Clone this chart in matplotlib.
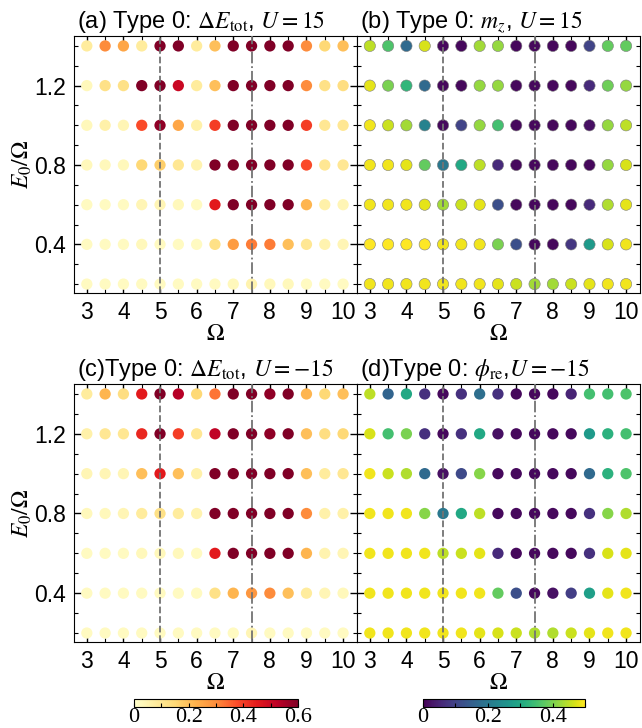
import numpy as np
import matplotlib
matplotlib.use('Agg')
import matplotlib.pyplot as plt
from matplotlib.ticker import MultipleLocator

plt.rcParams['font.family'] = ['Liberation Sans', 'DejaVu Sans']
plt.rcParams['mathtext.fontset'] = 'stix'

omega = [3.0, 3.5, 4.0, 4.5, 5.0, 5.5, 6.0, 6.5, 7.0, 7.5, 8.0, 8.5, 9.0, 9.5, 10.0]
e0_ratio = [1.4, 1.2, 1.0, 0.8, 0.6, 0.4, 0.2]

# (a) Delta E_tot, U = 15   (rows: E0/Omega = 1.4 ... 0.2)
dE_Upos = [
    [0.08, 0.30, 0.25, 0.08, 0.60, 0.60, 0.08, 0.20, 0.60, 0.60, 0.60, 0.60, 0.30, 0.15, 0.20],
    [0.03, 0.12, 0.12, 0.60, 0.60, 0.50, 0.08, 0.20, 0.60, 0.60, 0.60, 0.60, 0.30, 0.12, 0.13],
    [0.03, 0.06, 0.04, 0.38, 0.58, 0.25, 0.06, 0.40, 0.60, 0.60, 0.60, 0.60, 0.40, 0.10, 0.10],
    [0.03, 0.03, 0.03, 0.15, 0.17, 0.10, 0.05, 0.60, 0.60, 0.60, 0.60, 0.60, 0.38, 0.10, 0.10],
    [0.02, 0.02, 0.02, 0.04, 0.04, 0.03, 0.02, 0.45, 0.60, 0.60, 0.60, 0.60, 0.22, 0.06, 0.04],
    [0.02, 0.02, 0.02, 0.03, 0.02, 0.02, 0.02, 0.12, 0.27, 0.32, 0.32, 0.20, 0.10, 0.05, 0.04],
    [0.02, 0.02, 0.02, 0.02, 0.02, 0.02, 0.02, 0.02, 0.03, 0.05, 0.03, 0.03, 0.02, 0.02, 0.02],
]

# (b) m_z, U = 15
mz_Upos = [
    [0.45, 0.36, 0.17, 0.47, 0.01, 0.01, 0.43, 0.42, 0.01, 0.01, 0.01, 0.01, 0.10, 0.38, 0.38],
    [0.48, 0.40, 0.33, 0.17, 0.01, 0.01, 0.42, 0.42, 0.01, 0.01, 0.01, 0.01, 0.06, 0.39, 0.42],
    [0.49, 0.46, 0.43, 0.22, 0.01, 0.10, 0.42, 0.35, 0.01, 0.01, 0.01, 0.01, 0.02, 0.42, 0.45],
    [0.49, 0.49, 0.48, 0.38, 0.20, 0.30, 0.45, 0.06, 0.01, 0.01, 0.01, 0.01, 0.01, 0.42, 0.47],
    [0.49, 0.49, 0.49, 0.48, 0.43, 0.46, 0.48, 0.12, 0.01, 0.01, 0.01, 0.01, 0.06, 0.44, 0.48],
    [0.50, 0.50, 0.50, 0.50, 0.49, 0.49, 0.49, 0.40, 0.12, 0.01, 0.01, 0.08, 0.27, 0.47, 0.49],
    [0.49, 0.49, 0.49, 0.49, 0.49, 0.49, 0.49, 0.48, 0.46, 0.43, 0.43, 0.46, 0.48, 0.49, 0.49],
]

# (c) Delta E_tot, U = -15
dE_Uneg = [
    [0.08, 0.22, 0.13, 0.45, 0.60, 0.53, 0.15, 0.33, 0.60, 0.60, 0.58, 0.60, 0.22, 0.15, 0.20],
    [0.06, 0.10, 0.10, 0.43, 0.60, 0.40, 0.10, 0.52, 0.60, 0.60, 0.58, 0.60, 0.20, 0.13, 0.15],
    [0.04, 0.04, 0.04, 0.20, 0.45, 0.20, 0.06, 0.60, 0.60, 0.60, 0.60, 0.60, 0.20, 0.08, 0.10],
    [0.03, 0.03, 0.04, 0.08, 0.12, 0.08, 0.05, 0.60, 0.60, 0.60, 0.60, 0.60, 0.30, 0.06, 0.06],
    [0.02, 0.02, 0.02, 0.03, 0.03, 0.03, 0.02, 0.45, 0.60, 0.60, 0.60, 0.60, 0.22, 0.05, 0.04],
    [0.02, 0.02, 0.02, 0.02, 0.02, 0.02, 0.02, 0.12, 0.22, 0.28, 0.30, 0.20, 0.08, 0.04, 0.03],
    [0.02, 0.02, 0.02, 0.02, 0.02, 0.02, 0.02, 0.02, 0.02, 0.04, 0.02, 0.02, 0.02, 0.02, 0.02],
]

# (d) phi_re, U = -15
phi_Uneg = [
    [0.45, 0.16, 0.30, 0.07, 0.01, 0.07, 0.18, 0.07, 0.01, 0.01, 0.01, 0.05, 0.35, 0.35, 0.36],
    [0.47, 0.35, 0.40, 0.07, 0.01, 0.07, 0.30, 0.02, 0.01, 0.01, 0.01, 0.01, 0.27, 0.32, 0.35],
    [0.49, 0.46, 0.44, 0.17, 0.02, 0.11, 0.41, 0.01, 0.01, 0.01, 0.01, 0.01, 0.17, 0.32, 0.36],
    [0.49, 0.49, 0.49, 0.41, 0.20, 0.30, 0.45, 0.01, 0.01, 0.01, 0.01, 0.01, 0.07, 0.41, 0.44],
    [0.49, 0.49, 0.49, 0.49, 0.45, 0.46, 0.48, 0.06, 0.01, 0.01, 0.01, 0.01, 0.07, 0.47, 0.48],
    [0.49, 0.49, 0.49, 0.49, 0.49, 0.49, 0.49, 0.38, 0.12, 0.01, 0.02, 0.09, 0.28, 0.48, 0.49],
    [0.49, 0.49, 0.49, 0.49, 0.49, 0.49, 0.48, 0.47, 0.46, 0.44, 0.44, 0.46, 0.48, 0.49, 0.49],
]

titles = [r"(a) Type 0: $\Delta E_{\rm tot}$, $U = 15$",
          r"(b) Type 0: $m_z$, $U = 15$",
          r"(c)Type 0: $\Delta E_{\rm tot}$, $U = -15$",
          r"(d)Type 0: $\phi_{\rm re}$,$U = -15$"]
guide_lines = [5.0, 7.5]

W, H = 642, 728
fig = plt.figure(figsize=(W / 100, H / 100), dpi=100)

def frac(l, t, r, b):
    return [l / W, 1 - b / H, (r - l) / W, (b - t) / H]

boxes = [frac(74, 36, 357, 293), frac(357, 36, 640, 293),
         frac(74, 384, 357, 642), frac(357, 384, 640, 642)]
datas = [dE_Upos, mz_Upos, dE_Uneg, phi_Uneg]
cmaps = ['YlOrRd', 'viridis', 'YlOrRd', 'viridis']
vmaxs = [0.6, 0.5, 0.6, 0.5]

X, Y = np.meshgrid(omega, e0_ratio)
scs = []
for i in range(4):
    ax = fig.add_axes(boxes[i])
    d = np.array(datas[i])
    kw = dict(edgecolors='0.5', linewidths=0.4) if i == 1 else dict(edgecolors='none')
    sc = ax.scatter(X.ravel(), Y.ravel(), c=d.ravel(), cmap=cmaps[i], vmin=0, vmax=vmaxs[i],
                    s=66, zorder=2, **kw)
    scs.append(sc)
    ax.axvline(guide_lines[0], color='0.45', ls='--', lw=1.3, zorder=3)
    ax.axvline(guide_lines[1], color='0.45', ls='-.', lw=1.3, zorder=3)
    ax.set_xlim(2.65, 10.38)
    ax.set_ylim(0.155, 1.45)
    ax.xaxis.set_major_locator(MultipleLocator(1))
    ax.xaxis.set_minor_locator(MultipleLocator(0.5))
    ax.yaxis.set_major_locator(MultipleLocator(0.4))
    ax.yaxis.set_minor_locator(MultipleLocator(0.1))
    ax.tick_params(which='both', direction='in', top=True, right=True, labelsize=16.5)
    ax.tick_params(which='major', length=5, width=1, pad=6)
    ax.tick_params(which='minor', length=3, width=0.8)
    if i % 2 == 1:
        ax.tick_params(labelleft=False)
    else:
        ax.set_ylabel(r"$E_0/\Omega$", fontsize=17, labelpad=0)
    ax.set_xlabel(r"$\Omega$", fontsize=17, labelpad=-1)
    ax.text(0.01, 1.03, titles[i], transform=ax.transAxes, ha='left', va='baseline', fontsize=17)

cb_boxes = [frac(134, 699, 298, 707), frac(423, 699, 585, 707)]
cb_ticks = [[0, 0.2, 0.4, 0.6], [0, 0.2, 0.4]]
for j, (sc, box) in enumerate(zip([scs[0], scs[1]], cb_boxes)):
    cax = fig.add_axes(box)
    cb = fig.colorbar(sc, cax=cax, orientation='horizontal', ticks=cb_ticks[j])
    cb.ax.xaxis.set_minor_locator(MultipleLocator(0.1))
    cb.ax.tick_params(which='both', direction='in', length=3, width=0.8, pad=1)
    cb.ax.set_xticklabels([f"{t:g}" for t in cb_ticks[j]], fontfamily='Liberation Serif', fontsize=16)
    cb.outline.set_linewidth(0.8)

fig.savefig('out.png', dpi=100)
